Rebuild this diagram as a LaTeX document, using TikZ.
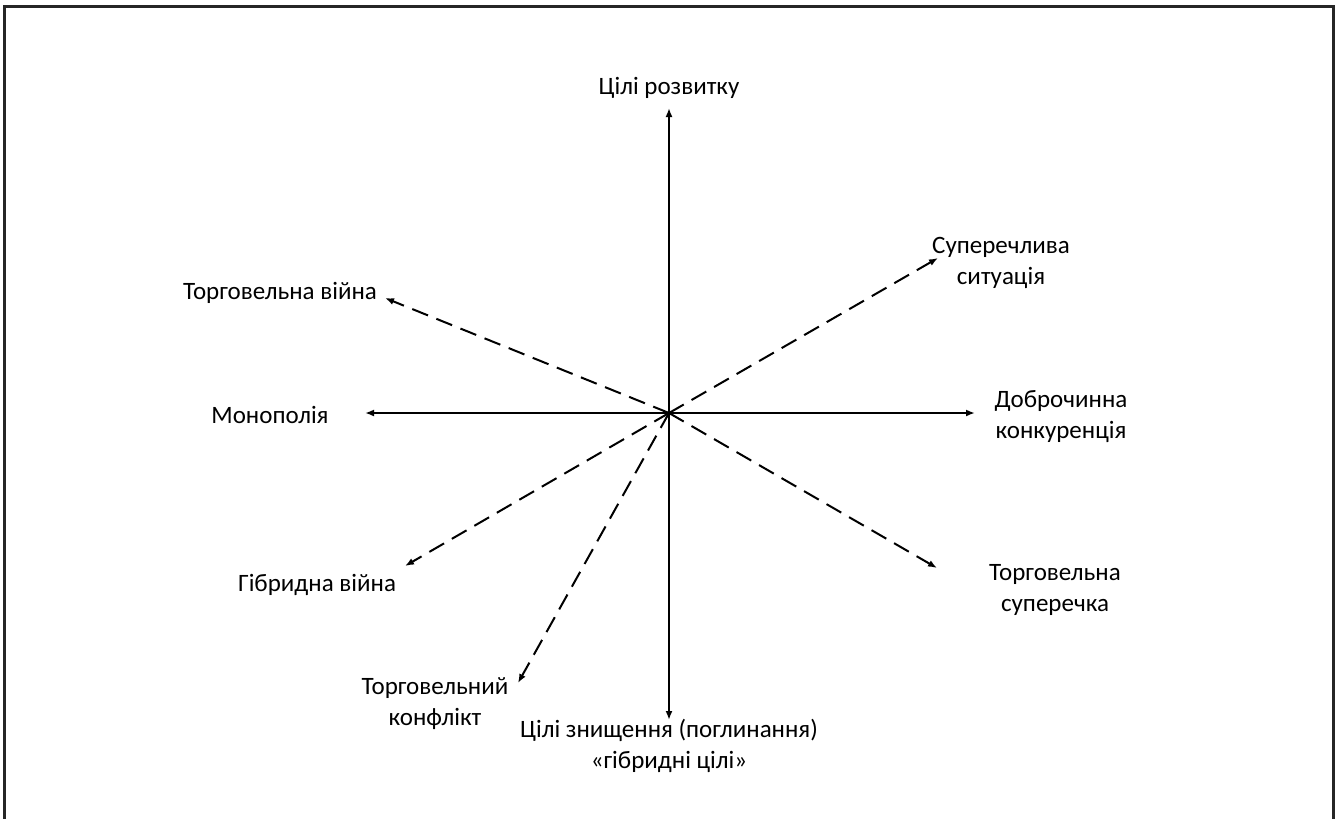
\documentclass[tikz,border=0pt]{standalone}
\usepackage{fontspec}
\setmainfont{Carlito}
\usetikzlibrary{arrows.meta}
\begin{document}
\begin{tikzpicture}[x=1pt,y=-1pt,
  axis/.style={line width=2pt,-{Latex[length=9pt,width=7pt]}},
  dashaxis/.style={line width=2pt,dash pattern=on 17pt off 9pt,-{Latex[length=9pt,width=7pt]}},
  lbl/.style={font=\fontsize{25}{31}\selectfont,align=center,inner sep=0pt}]
\useasboundingbox (0,0) rectangle (1336,819);
\clip (0,0) rectangle (1336,819);
\fill[white] (0,0) rectangle (1336,819);
\draw[line width=3pt,black!85] (4.5,6) rectangle (1333,840);
\coordinate (c) at (669,413);
\coordinate (tU) at (669,108);
\coordinate (tD) at (669,720);
\coordinate (tL) at (365,413);
\coordinate (tR) at (975,413);
\coordinate (tNE) at (938,258);
\coordinate (tNW) at (385,298);
\coordinate (tSW) at (405,566);
\coordinate (tSSW) at (518,683);
\coordinate (tSE) at (937,568);
\node[lbl] (lU) at (669,88) {Цілі розвитку};
\node[lbl] (lNE) at (1001,263) {Суперечлива\\ситуація};
\node[lbl] (lNW) at (280,293) {Торговельна війна};
\node[lbl] (lL) at (270,415) {Монополія};
\node[lbl] (lR) at (1061,417) {Доброчинна\\конкуренція};
\node[lbl] (lSW) at (317,585) {Гібридна війна};
\node[lbl] (lSE) at (1055,590) {Торговельна\\суперечка};
\node[lbl] (lSSW) at (435,704) {Торговельний\\конфлікт};
\node[lbl] (lD) at (669,746) {Цілі знищення (поглинання)\\«гібридні цілі»};
\draw[axis] (c) -- (tU);
\draw[axis] (c) -- (tD);
\draw[axis] (c) -- (tL);
\draw[axis] (c) -- (tR);
\draw[dashaxis] (c) -- (tNE);
\draw[dashaxis] (c) -- (tNW);
\draw[dashaxis] (c) -- (tSW);
\draw[dashaxis] (c) -- (tSSW);
\draw[dashaxis] (c) -- (tSE);
\end{tikzpicture}
\end{document}
